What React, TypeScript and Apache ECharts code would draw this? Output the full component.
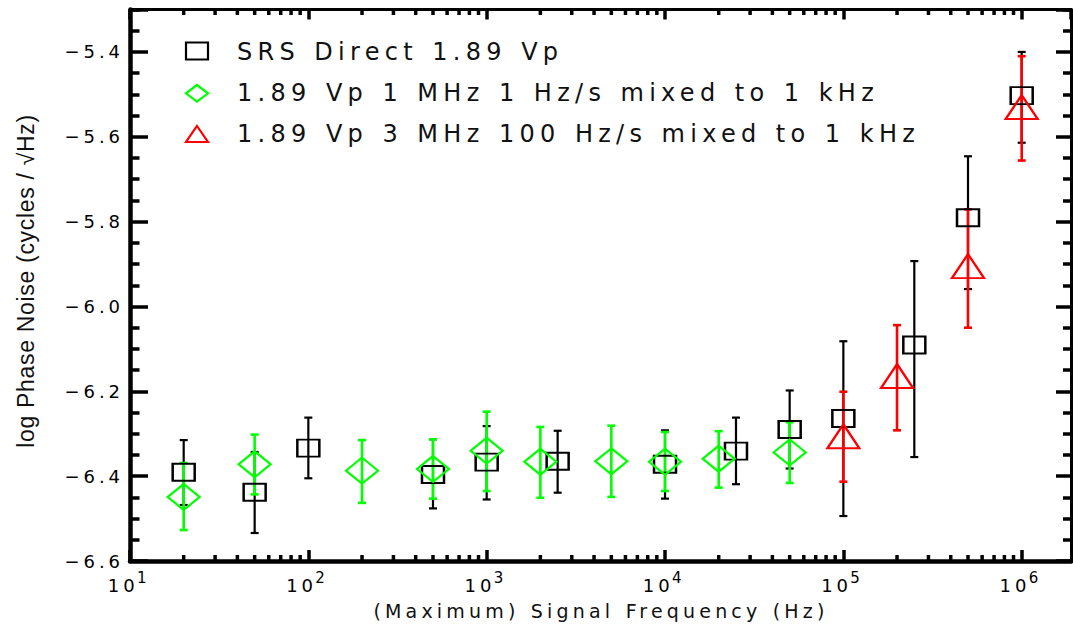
import React, { useEffect, useRef } from 'react';
import * as echarts from 'echarts';

// ---- data (frequency in Hz, log10 phase noise) ----
const squareFreq = [20, 50, 100, 500, 1000, 2500, 1e4, 2.5e4, 5e4, 1e5, 2.5e5, 5e5, 1e6];
const squareVal = [-6.391, -6.438, -6.334, -6.396, -6.367, -6.365, -6.372, -6.341, -6.29, -6.264, -6.091, -5.791, -5.503];
const squareLow = [-6.468, -6.534, -6.405, -6.476, -6.455, -6.439, -6.453, -6.419, -6.382, -6.494, -6.355, -5.959, -5.614];
const squareHigh = [-6.315, -6.343, -6.262, -6.313, -6.282, -6.293, -6.292, -6.262, -6.198, -6.082, -5.893, -5.646, -5.4];

const diamondFreq = [20, 50, 200, 500, 1000, 2000, 5000, 1e4, 2e4, 5e4];
const diamondVal = [-6.449, -6.372, -6.387, -6.383, -6.34, -6.366, -6.365, -6.366, -6.359, -6.344];
const diamondLow = [-6.527, -6.443, -6.463, -6.453, -6.435, -6.451, -6.449, -6.435, -6.427, -6.416];
const diamondHigh = [-6.369, -6.302, -6.315, -6.313, -6.248, -6.284, -6.281, -6.296, -6.294, -6.273];

const triangleFreq = [1e5, 2e5, 5e5, 1e6];
const triangleVal = [-6.306, -6.164, -5.905, -5.53];
const triangleLow = [-6.413, -6.292, -6.05, -5.656];
const triangleHigh = [-6.201, -6.044, -5.771, -5.41];

const legendLabels = [
  'SRS Direct 1.89 Vp',
  '1.89 Vp 1 MHz 1 Hz/s mixed to 1 kHz',
  '1.89 Vp 3 MHz 100 Hz/s mixed to 1 kHz',
];
const xTitle = '(Maximum) Signal Frequency (Hz)';
const yTitle = 'log Phase Noise (cycles / \u221AHz)';

// axis structure (log10 of frequency)
const xDecades = [1, 2, 3, 4, 5, 6];
const xMinorMultipliers = [2, 3, 4, 5, 6, 7, 8, 9];
const X_MIN = 1;
const X_MAX = 6.2765;
const Y_MIN = -6.6;
const Y_MAX = -5.3;

const FONT = 'DejaVu Sans';
const TITLE_FONT = 'Liberation Sans';
const BLACK = '#000000';
const GREEN = '#00ff00';
const RED = '#ff0000';

const minorTickPos: number[] = [];
xDecades.forEach((d) => {
  xMinorMultipliers.forEach((m) => {
    const v = d + Math.log10(m);
    if (v < X_MAX) minorTickPos.push(v);
  });
});

function errorBars(freq: number[], low: number[], high: number[], color: string, lw: number) {
  return {
    type: 'custom',
    data: freq.map((f, i) => [Math.log10(f), low[i], high[i]]),
    encode: { x: 0, y: [1, 2] },
    silent: true,
    renderItem: (_params: any, api: any) => {
      const x = api.value(0);
      const top = api.coord([x, api.value(2)]);
      const bot = api.coord([x, api.value(1)]);
      const cw = 4;
      const style = { stroke: color, lineWidth: lw, fill: 'none' };
      return {
        type: 'group',
        children: [
          { type: 'line', shape: { x1: top[0], y1: top[1], x2: bot[0], y2: bot[1] }, style },
          { type: 'line', shape: { x1: top[0] - cw, y1: top[1], x2: top[0] + cw, y2: top[1] }, style },
          { type: 'line', shape: { x1: bot[0] - cw, y1: bot[1], x2: bot[0] + cw, y2: bot[1] }, style },
        ],
      };
    },
  };
}

function markers(freq: number[], val: number[], symbol: string, size: number[], color: string) {
  return {
    type: 'scatter',
    data: freq.map((f, i) => [Math.log10(f), val[i]]),
    symbol,
    symbolSize: size,
    silent: true,
    itemStyle: { color: 'rgba(0,0,0,0)', borderColor: color, borderWidth: 2.2, opacity: 1 },
  };
}

export default function App() {
  const ref = useRef<HTMLDivElement>(null);

  useEffect(() => {
    if (!ref.current) return;
    const chart = echarts.init(ref.current, null, { renderer: 'svg' });

    const axisBase = {
      type: 'value',
      splitLine: { show: false },
      minorSplitLine: { show: false },
    };

    const option: any = {
      animation: false,
      backgroundColor: '#ffffff',
      textStyle: { fontFamily: FONT },
      grid: { left: 130, right: 2, top: 9.5, bottom: 64, outerBoundsMode: 'none', containLabel: false },
      xAxis: [
        {
          ...axisBase,
          min: X_MIN,
          max: X_MAX,
          interval: 1,
          position: 'bottom',
          axisLine: { show: true, onZero: false, lineStyle: { color: BLACK, width: 4.5 } },
          axisTick: { show: true, inside: true, length: 11, lineStyle: { color: BLACK, width: 3.5 } },
          axisLabel: {
            show: true,
            showMaxLabel: false,
            showMinLabel: true,
            margin: 9,
            formatter: (v: number) => `{b|10}{s|${Math.round(v)}}`,
            rich: {
              b: { fontSize: 18, fontFamily: FONT, color: BLACK, lineHeight: 24, verticalAlign: 'bottom' },
              s: { fontSize: 15, fontFamily: FONT, color: BLACK, lineHeight: 15, verticalAlign: 'top', padding: [0, 0, 0, 4] },
            },
          },
        },
        {
          ...axisBase,
          min: X_MIN,
          max: X_MAX,
          interval: 1,
          position: 'top',
          axisLine: { show: true, onZero: false, lineStyle: { color: BLACK, width: 3 } },
          axisTick: { show: true, inside: true, length: 10, lineStyle: { color: BLACK, width: 3.5 } },
          axisLabel: { show: false },
        },
      ],
      yAxis: [
        {
          ...axisBase,
          min: Y_MIN,
          max: Y_MAX,
          interval: 0.2,
          position: 'left',
          axisLine: { show: true, onZero: false, lineStyle: { color: BLACK, width: 4.5 } },
          axisTick: { show: true, inside: true, length: 18, lineStyle: { color: BLACK, width: 3.5 } },
          minorTick: { show: true, splitNumber: 4, length: 9.5, lineStyle: { color: BLACK, width: 3.5 } },
          axisLabel: {
            show: true,
            showMaxLabel: false,
            showMinLabel: true,
            margin: 6,
            fontSize: 18,
            fontFamily: FONT,
            color: BLACK,
            formatter: (v: number) => v.toFixed(1).replace('-', '\u2212'),
          },
        },
        {
          ...axisBase,
          min: Y_MIN,
          max: Y_MAX,
          interval: 0.2,
          position: 'right',
          axisLine: { show: true, onZero: false, lineStyle: { color: BLACK, width: 3 } },
          axisTick: { show: true, inside: true, length: 15, lineStyle: { color: BLACK, width: 3.5 } },
          minorTick: { show: true, splitNumber: 4, length: 8, lineStyle: { color: BLACK, width: 3.5 } },
          axisLabel: { show: false },
        },
      ],
      series: [
        {
          type: 'custom',
          silent: true,
          data: minorTickPos.map((v) => [v, Y_MIN]),
          encode: { x: 0, y: 1 },
          renderItem: (params: any, api: any) => {
            const p = api.coord([api.value(0), Y_MIN]);
            const cs = params.coordSys;
            const style = { stroke: BLACK, lineWidth: 3.5 };
            return {
              type: 'group',
              children: [
                { type: 'line', shape: { x1: p[0], y1: cs.y + cs.height, x2: p[0], y2: cs.y + cs.height - 6 }, style },
                { type: 'line', shape: { x1: p[0], y1: cs.y, x2: p[0], y2: cs.y + 5.5 }, style },
              ],
            };
          },
        },
        errorBars(squareFreq, squareLow, squareHigh, BLACK, 2.2),
        markers(squareFreq, squareVal, 'rect', [22, 17], BLACK),
        errorBars(diamondFreq, diamondLow, diamondHigh, GREEN, 2.6),
        markers(diamondFreq, diamondVal, 'diamond', [32, 26], GREEN),
        errorBars(triangleFreq, triangleLow, triangleHigh, RED, 2.6),
        markers(triangleFreq, triangleVal, 'triangle', [32, 24], RED),
      ],
      graphic: [
        // legend markers
        { type: 'rect', shape: { x: 186, y: 42.5, width: 22, height: 17 }, style: { fill: 'none', stroke: BLACK, lineWidth: 2.2 }, z: 100 },
        { type: 'polygon', shape: { points: [[197, 85], [208, 93.3], [197, 101.6], [186, 93.3]] }, style: { fill: 'none', stroke: GREEN, lineWidth: 2.2 }, z: 100 },
        { type: 'polygon', shape: { points: [[197, 126], [208, 142], [186, 142]] }, style: { fill: 'none', stroke: RED, lineWidth: 2.2 }, z: 100 },
        // legend texts
        { type: 'text', x: 237, y: 52, style: { text: legendLabels[0], font: `24px "${FONT}"`, fill: '#111', textAlign: 'left', textVerticalAlign: 'middle' }, z: 100 },
        { type: 'text', x: 237, y: 93, style: { text: legendLabels[1], font: `24px "${FONT}"`, fill: '#111', textAlign: 'left', textVerticalAlign: 'middle' }, z: 100 },
        { type: 'text', x: 237, y: 134, style: { text: legendLabels[2], font: `24px "${FONT}"`, fill: '#111', textAlign: 'left', textVerticalAlign: 'middle' }, z: 100 },
        // axis titles
        { type: 'text', x: 601, y: 611, style: { text: xTitle, font: `19px "${FONT}"`, fill: '#111', textAlign: 'center', textVerticalAlign: 'middle' }, z: 100 },
        { type: 'text', x: 26, y: 281, rotation: Math.PI / 2, style: { text: yTitle, font: `23px "${TITLE_FONT}"`, fill: '#111', textAlign: 'center', textVerticalAlign: 'middle' }, z: 100 },
      ],
    };

    chart.setOption(option);
    return () => chart.dispose();
  }, []);

  return (
    <>
      <style>{`
        .chartbox svg text { letter-spacing: 0.22em; word-spacing: 0.06em; }
        .chartbox svg text[style*="Liberation"] { letter-spacing: 0.03em; word-spacing: 0; }
      `}</style>
      <div
        ref={ref}
        className="chartbox"
        style={{ position: 'fixed', left: 0, top: 0, width: 1073, height: 625, background: '#fff' }}
      />
    </>
  );
}
